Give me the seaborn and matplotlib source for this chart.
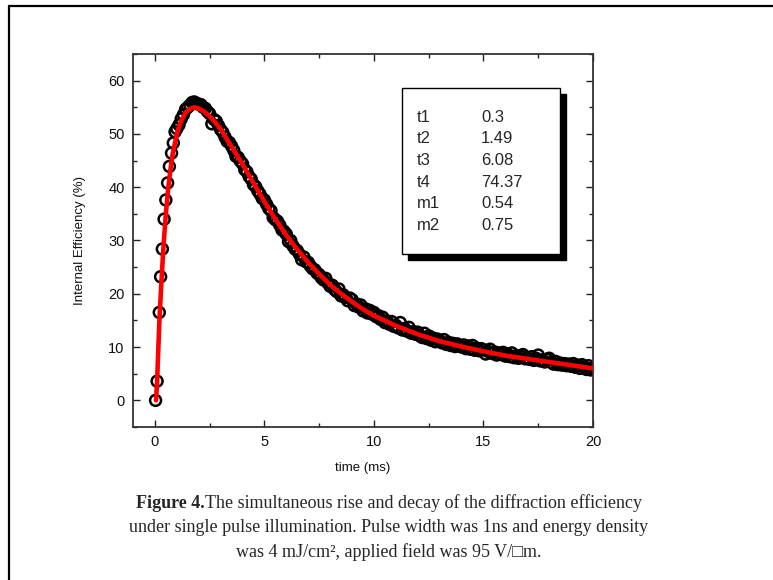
import numpy as np
import pandas as pd
import matplotlib
matplotlib.use("Agg")
import matplotlib.pyplot as plt
import seaborn as sns
from matplotlib.patches import Rectangle
from matplotlib.lines import Line2D
from matplotlib.ticker import MultipleLocator

# ---------------- data ----------------
rise_t = [0.03, 0.1, 0.2, 0.26, 0.34, 0.42, 0.5, 0.58, 0.66, 0.76, 0.84, 0.92,
          1.0, 1.1, 1.2, 1.3, 1.4, 1.5, 1.6, 1.7, 1.8, 1.9]
rise_v = [0.0, 3.6, 16.5, 23.2, 28.4, 34.0, 37.6, 40.8, 43.9, 46.4, 48.3, 50.4,
          51.0, 51.7, 52.8, 53.6, 54.6, 55.0, 55.4, 55.9, 56.0, 55.7]

decay_start, decay_step = 2.0, 0.1
decay_v = [
    55.6, 55.5, 55.0, 54.8, 54.2, 53.8, 51.9, 52.7, 52.4, 51.6,
    50.8, 50.3, 49.4, 48.6, 48.4, 47.7, 46.9, 45.8, 45.6, 44.9,
    44.4, 43.3, 42.9, 42.0, 41.5, 40.5, 40.1, 39.3, 38.7, 37.9,
    37.6, 36.8, 36.0, 35.6, 34.3, 33.9, 33.6, 32.9, 32.0, 31.7,
    31.2, 29.8, 30.0, 29.0, 28.4, 28.1, 27.4, 26.4, 26.9, 26.0,
    25.9, 25.2, 24.7, 24.5, 23.9, 23.6, 23.0, 22.6, 22.9, 22.0,
    21.4, 21.6, 20.8, 20.4, 20.9, 19.6, 19.8, 19.3, 18.7, 19.2,
    18.9, 17.8, 18.1, 17.5, 17.9, 16.8, 17.2, 16.4, 16.9, 16.2,
    16.5, 15.7, 15.9, 15.2, 15.6, 14.6, 14.9, 14.3, 14.8, 13.9,
    14.1, 13.6, 14.6, 13.2, 13.5, 13.0, 13.7, 12.6, 12.9, 12.4,
    12.8, 12.1, 11.8, 12.6, 11.6, 12.1, 11.3, 11.7, 11.0, 11.5,
    11.2, 10.8, 11.4, 10.5, 10.9, 10.3, 10.7, 10.1, 10.6, 10.2,
    10.0, 10.4, 9.7, 10.2, 9.6, 10.3, 9.4, 9.8, 9.3, 9.7,
    9.5, 8.7, 9.2, 9.6, 8.8, 9.1, 8.5, 8.9, 8.6, 9.0,
    8.3, 8.7, 8.2, 8.9, 8.0, 8.4, 7.9, 8.3, 8.6, 7.8,
    8.0, 7.7, 8.2, 7.5, 7.9, 8.5, 7.4, 7.6, 7.2, 7.7,
    7.9, 7.1, 6.8, 7.3, 6.7, 7.0, 6.6, 6.9, 6.5, 6.8,
    6.4, 6.9, 6.2, 6.6, 6.0, 6.7, 6.3, 5.8, 6.5, 5.7,
    6.1,
]
decay_t = list(np.round(decay_start + decay_step * np.arange(len(decay_v)), 2))

fit_t = [0.05, 0.1, 0.15, 0.2, 0.3, 0.4, 0.5, 0.6, 0.7, 0.8, 1.0, 1.2, 1.4, 1.6,
         1.8, 2.0, 2.25, 2.5, 2.75, 3.0, 3.5, 4.0, 4.5, 5.0, 5.5, 6.0, 6.5, 7.0,
         7.5, 8.0, 8.5, 9.0, 9.5, 10.0, 11.0, 12.0, 13.0, 14.0, 15.0, 16.0,
         17.0, 18.0, 19.0, 20.0]
fit_v = [0.0, 3.5, 9.0, 14.5, 22.5, 29.5, 35.0, 39.5, 43.0, 46.0, 50.0, 52.5,
         54.0, 54.7, 55.0, 54.8, 54.2, 53.3, 52.2, 50.9, 47.6, 44.3, 40.8, 37.3,
         34.0, 31.0, 28.3, 25.9, 23.7, 21.7, 20.0, 18.5, 17.1, 15.9, 14.0, 12.4,
         11.1, 10.1, 9.2, 8.4, 7.8, 7.2, 6.6, 6.0]

param_names = ["t1", "t2", "t3", "t4", "m1", "m2"]
param_values = ["0.3", "1.49", "6.08", "74.37", "0.54", "0.75"]

x_label = "time (ms)"
y_label = "Internal Efficiency (%)"
caption_lines = [
    ("Figure 4.", "The simultaneous rise and decay of the diffraction efficiency"),
    ("", "under single pulse illumination. Pulse width was 1ns and energy density"),
    ("", "was 4 mJ/cm\u00b2, applied field was 95 V/\u25a1m."),
]

data = pd.DataFrame({"t": rise_t + decay_t, "v": rise_v + decay_v})
fit = pd.DataFrame({"t": fit_t, "v": fit_v})

# ---------------- style ----------------
sns.set_theme(style="ticks")
plt.rcParams["font.family"] = ["Liberation Sans", "DejaVu Sans"]

W, H = 773, 580
fig = plt.figure(figsize=(W / 100, H / 100), dpi=100)

def fx(px):
    return px / W

def fy(py):
    return 1 - py / H

# page frame
fig.add_artist(Line2D([fx(9), 1.0], [fy(6), fy(6)], color="black", lw=1.6))
fig.add_artist(Line2D([fx(9), fx(9)], [fy(6), 0.0], color="black", lw=1.6))

ax_l, ax_r, ax_t, ax_b = 133, 593, 54, 427
ax = fig.add_axes([fx(ax_l), fy(ax_b), fx(ax_r - ax_l), (ax_b - ax_t) / H])

sns.scatterplot(data=data, x="t", y="v", ax=ax, marker="o", s=62,
                facecolors="none", edgecolor="black", linewidth=1.8, zorder=2,
                legend=False)
sns.lineplot(data=fit, x="t", y="v", ax=ax, color="#ff0000", lw=3.3, zorder=3,
             sort=False, estimator=None)

ax.set_xlim(-1, 20)
ax.set_ylim(-5, 65)
ax.xaxis.set_major_locator(MultipleLocator(5))
ax.xaxis.set_minor_locator(MultipleLocator(2.5))
ax.yaxis.set_major_locator(MultipleLocator(10))
ax.yaxis.set_minor_locator(MultipleLocator(5))
ax.set_yticks([0, 10, 20, 30, 40, 50, 60])
ax.tick_params(which="both", direction="in", top=True, right=True,
               colors="#222222", labelcolor="#111111", labelsize=10.5, width=1.0)
ax.tick_params(which="major", length=5, pad=6)
ax.tick_params(which="minor", length=3)
for s in ax.spines.values():
    s.set_color("#333333")
    s.set_linewidth(1.3)
ax.set_xlabel(x_label, fontsize=9.5, labelpad=9, color="#111111")
ax.set_ylabel(y_label, fontsize=9.5, labelpad=16, color="#111111")

# inset parameter box with shadow
bx0, by0, bx1, by1 = 402, 88, 560, 254
sh = 6
fig.add_artist(Rectangle((fx(bx0 + sh), fy(by1 + sh)), fx(bx1 - bx0), (by1 - by0) / H,
                         transform=fig.transFigure, facecolor="black",
                         edgecolor="black", zorder=5))
fig.add_artist(Rectangle((fx(bx0), fy(by1)), fx(bx1 - bx0), (by1 - by0) / H,
                         transform=fig.transFigure, facecolor="white",
                         edgecolor="black", lw=1.0, zorder=6))
row_y0, row_dy = 117, 21.7
for i, (n, v) in enumerate(zip(param_names, param_values)):
    yy = fy(row_y0 + i * row_dy)
    fig.text(fx(417), yy, n, fontsize=12, va="center", ha="left", zorder=7)
    fig.text(fx(481), yy, v, fontsize=12, va="center", ha="left", zorder=7)

# caption
serif = ["Liberation Serif", "DejaVu Serif"]
cap_y = [503, 528, 552]
cap_fs = 13
cx = 389
for (bold, rest), yy in zip(caption_lines, cap_y):
    if bold:
        t1 = fig.text(0, 0, bold, fontsize=cap_fs, family=serif, weight="bold")
        t2 = fig.text(0, 0, rest, fontsize=cap_fs, family=serif)
        fig.canvas.draw()
        r = fig.canvas.get_renderer()
        w1 = t1.get_window_extent(r).width
        w2 = t2.get_window_extent(r).width
        start = cx - (w1 + w2) / 2
        t1.set_position((fx(start), fy(yy)))
        t1.set_va("center")
        t2.set_position((fx(start + w1), fy(yy)))
        t2.set_va("center")
    else:
        fig.text(fx(cx), fy(yy), rest, fontsize=cap_fs, family=serif,
                 ha="center", va="center")

fig.savefig("out.png", dpi=100)
